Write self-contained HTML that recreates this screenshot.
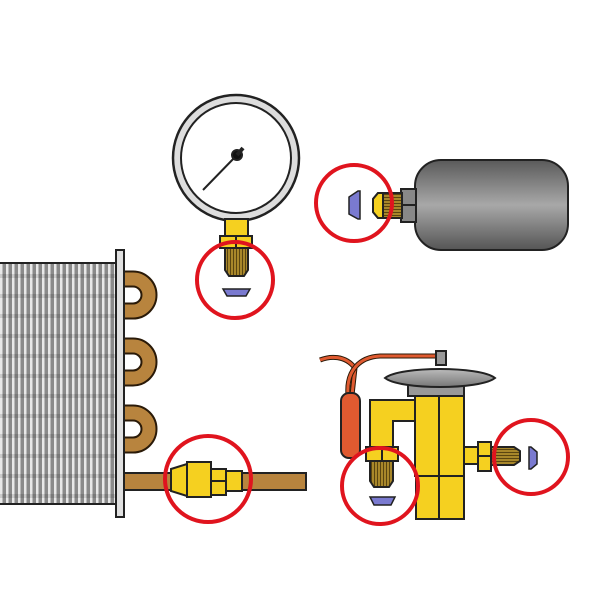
<!DOCTYPE html>
<html><head><style>
html,body{margin:0;padding:0;background:#fff;width:600px;height:600px;overflow:hidden}
</style></head><body>
<svg width="600" height="600" viewBox="0 0 600 600" xmlns="http://www.w3.org/2000/svg">
<defs>
<linearGradient id="tank" x1="0" y1="0" x2="0" y2="1">
<stop offset="0" stop-color="#5a5a5a"/><stop offset="0.5" stop-color="#a8a8a8"/><stop offset="1" stop-color="#555"/>
</linearGradient>
<linearGradient id="diap" x1="0" y1="0" x2="0" y2="1">
<stop offset="0" stop-color="#bbb"/><stop offset="1" stop-color="#777"/>
</linearGradient>
<pattern id="fins" width="6" height="20" patternUnits="userSpaceOnUse">
<rect width="6" height="20" fill="#8a8a8a"/>
<rect x="0" width="2.5" height="20" fill="#e8e8e8"/>
<rect y="14" width="6" height="4" fill="#000" opacity="0.12"/>
</pattern>
<pattern id="thr" width="4" height="3" patternUnits="userSpaceOnUse">
<rect width="4" height="3" fill="#a8872a"/><rect y="2" width="4" height="1" fill="#5a4510"/>
</pattern>
<pattern id="thrv" width="3" height="4" patternUnits="userSpaceOnUse">
<rect width="3" height="4" fill="#a8872a"/><rect x="2" width="1" height="4" fill="#5a4510"/>
</pattern>
</defs>
<g stroke="#222" stroke-width="2">
<!-- coil -->
<rect x="-2" y="263" width="119" height="241" fill="url(#fins)"/>
<g fill="none" stroke="#2a1a08" stroke-width="17">
<path d="M124 279 H133 A16 16 0 0 1 133 311 H124"/>
<path d="M124 346 H133 A16 16 0 0 1 133 378 H124"/>
<path d="M124 413 H133 A16 16 0 0 1 133 445 H124"/>
</g>
<g fill="none" stroke="#b8843e" stroke-width="13">
<path d="M124 279 H133 A16 16 0 0 1 133 311 H124"/>
<path d="M124 346 H133 A16 16 0 0 1 133 378 H124"/>
<path d="M124 413 H133 A16 16 0 0 1 133 445 H124"/>
</g>
<rect x="116" y="250" width="8" height="267" fill="#e0e0e0"/>
<rect x="124" y="473" width="182" height="17" fill="#b8843e"/>
<polygon points="171,469 187,464 187,496 171,491" fill="#f5d020"/>
<rect x="187" y="462" width="24" height="35" fill="#f5d020"/>
<rect x="211" y="469" width="15" height="26" fill="#f5d020"/>
<line x1="211" y1="481" x2="226" y2="481"/>
<rect x="226" y="471" width="16" height="20" fill="#f5d020"/>
<!-- gauge -->
<circle cx="236" cy="158" r="63" fill="#ddd" stroke-width="2.5"/>
<circle cx="236" cy="158" r="55" fill="#fff"/>
<rect x="225" y="219" width="23" height="18" fill="#f5d020"/>
<rect x="220" y="236" width="32" height="12" fill="#f5d020"/>
<line x1="236" y1="236" x2="236" y2="248"/>
<path d="M225 248 H248 V270 L244 276 H229 L225 270 Z" fill="url(#thrv)"/>
<polygon points="223,289 250,289 246,296 227,296" fill="#7a7ad0" stroke-width="1.5"/>
<!-- tank -->
<rect x="415" y="160" width="153" height="90" rx="26" fill="url(#tank)"/>
<rect x="401" y="189" width="15" height="33" fill="#888"/>
<line x1="401" y1="205" x2="416" y2="205"/>
<path d="M402 193 V218 H378 L373 212 V199 L378 193 Z" fill="url(#thr)"/>
<path d="M378 193 L373 199 V212 L378 218 H383 V193 Z" fill="#f5d020"/>
<polygon points="358,191 360,191 360,219 358,219 349,214 349,197" fill="#7a7ad0" stroke-width="1.5"/>
<!-- valve -->
<path d="M320 360 C330 356 345 355 355 368 L352 395" fill="none" stroke="#2a1a08" stroke-width="5"/>
<path d="M320 360 C330 356 345 355 355 368 L352 395" fill="none" stroke="#e05a30" stroke-width="3"/>
<path d="M348 395 C346 370 360 357 380 356 H440" fill="none" stroke="#2a1a08" stroke-width="5"/>
<path d="M348 395 C346 370 360 357 380 356 H440" fill="none" stroke="#e05a30" stroke-width="3"/>
<rect x="341" y="393" width="19" height="65" rx="8" fill="#e05a30"/>
<rect x="436" y="351" width="10" height="14" fill="#999"/>
<rect x="408" y="382" width="56" height="14" fill="#999"/>
<path d="M385 378 C400 366 480 366 495 378 C480 390 400 390 385 378 Z" fill="url(#diap)"/>
<path d="M370 400 H415 V421 H393 V447 H370 Z" fill="#f5d020"/>
<rect x="415" y="396" width="49" height="80" fill="#f5d020"/>
<line x1="439" y1="396" x2="439" y2="520"/>
<rect x="416" y="476" width="48" height="43" fill="#f5d020"/>
<line x1="439" y1="476" x2="439" y2="519"/>
<rect x="366" y="447" width="32" height="14" fill="#f5d020"/>
<line x1="382" y1="447" x2="382" y2="461"/>
<path d="M370 461 H393 V481 L389 487 H374 L370 481 Z" fill="url(#thrv)"/>
<polygon points="370,497 395,497 391,505 374,505" fill="#7a7ad0" stroke-width="1.5"/>
<rect x="464" y="447" width="14" height="17" fill="#f5d020"/>
<rect x="478" y="442" width="13" height="29" fill="#f5d020"/>
<line x1="478" y1="456" x2="491" y2="456"/>
<path d="M491 447 H514 L520 451 V461 L514 465 H491 Z" fill="url(#thr)"/>
<polygon points="529,447 531,447 537,452 537,464 531,469 529,469" fill="#7a7ad0" stroke-width="1.5"/>
<!-- gauge needle -->
<line x1="238" y1="154" x2="203" y2="190" stroke-width="2"/>
<circle cx="237" cy="155" r="5" fill="#111"/>
<line x1="237" y1="155" x2="243" y2="148" stroke-width="4"/>
</g>
<!-- red circles -->
<g fill="none" stroke="#e0141e" stroke-width="4">
<circle cx="235" cy="280" r="38"/>
<circle cx="354" cy="203" r="38"/>
<circle cx="208" cy="479" r="43"/>
<circle cx="380" cy="486" r="38"/>
<circle cx="531" cy="457" r="37"/>
</g>
</svg>
</body></html>
